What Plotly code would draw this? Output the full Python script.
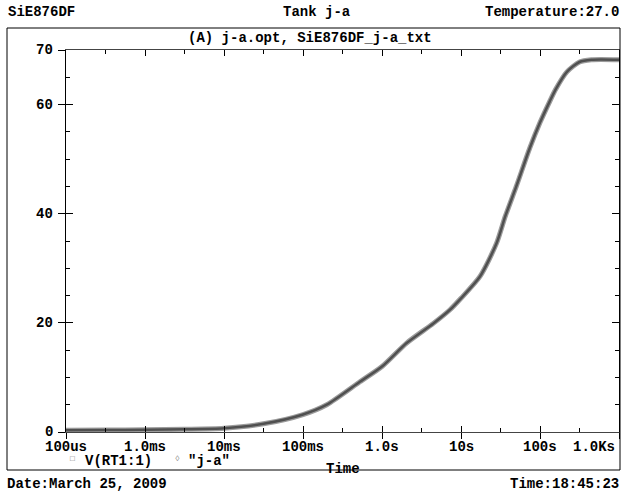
import math
import plotly.graph_objects as go

# ---- data ----
time_s = [1e-4, 3.16e-4, 1e-3, 3.16e-3, 1e-2, 3.16e-2, 0.1, 0.2, 0.525, 1.0, 2.05,
          4.47, 7.25, 10.0, 17.4, 28.2, 36.3, 50.1, 74.1, 100.0, 132.0, 158.0,
          219.0, 316.0, 447.0, 1000.0]
v_rt1 = [0.3, 0.35, 0.4, 0.5, 0.7, 1.5, 3.2, 5.0, 9.2, 12.0, 16.3,
         19.9, 22.4, 24.5, 28.5, 34.6, 39.5, 45.0, 52.0, 56.7, 60.5, 62.8,
         66.0, 67.8, 68.2, 68.2]
v_ja = [0.3, 0.35, 0.4, 0.5, 0.7, 1.5, 3.2, 5.0, 9.2, 12.0, 16.3,
        19.9, 22.4, 24.5, 28.5, 34.6, 39.5, 45.0, 52.0, 56.7, 60.5, 62.8,
        66.0, 67.8, 68.2, 68.2]

x_tick_vals = [1e-4, 1e-3, 1e-2, 1e-1, 1, 10, 100, 1000]
x_tick_text = ["100us", "1.0ms", "10ms", "100ms", "1.0s", "10s", "100s", "1.0Ks"]
x_minor_vals = [3.16e-4, 3.16e-3, 3.16e-2, 0.316, 3.16, 31.6, 316]
y_tick_vals = [0, 20, 40, 60, 70]
y_tick_text = ["0", "20", "40", "60", "70"]
y_major_inner = [0, 20, 40, 60]
y_minor_vals = [5, 10, 15, 25, 30, 35, 45, 50, 55, 65]

FONT = "Liberation Mono"
FS = 14
W, H = 621, 493
L, R, T, B = 66, 2, 50, 61
pw, ph = W - L - R, H - T - B


def px(x):
    return (x - L) / pw


def py(y):
    return (H - B - y) / ph


fig = go.Figure()
fig.add_trace(go.Scatter(x=time_s, y=v_ja, mode="lines", name='"j-a"',
                         line=dict(color="#9c9c9c", width=5, shape="spline", smoothing=0.7),
                         xaxis="x", yaxis="y"))
fig.add_trace(go.Scatter(x=time_s, y=v_rt1, mode="lines", name="V(RT1:1)",
                         line=dict(color="#505050", width=2.5, shape="spline", smoothing=0.7),
                         xaxis="x2", yaxis="y2"))

xr = [-4, 3]
yr = [0, 70]

fig.update_layout(
    width=W, height=H,
    margin=dict(l=L, r=R, t=T, b=B),
    paper_bgcolor="white", plot_bgcolor="white",
    showlegend=False,
    font=dict(family=FONT, size=FS, color="black"),
    xaxis=dict(type="log", range=xr, tickvals=x_tick_vals, showticklabels=False,
               ticks="outside", ticklen=6, tickwidth=1, tickcolor="black",
               showline=True, linecolor="black", linewidth=1,
               showgrid=False, zeroline=False),
    yaxis=dict(range=yr, tickvals=y_tick_vals, showticklabels=False,
               ticks="outside", ticklen=7, tickwidth=1, tickcolor="black",
               showline=True, linecolor="black", linewidth=1,
               showgrid=False, zeroline=False),
    xaxis2=dict(type="log", range=xr, overlaying="x", anchor="y2", side="bottom",
                tickvals=x_tick_vals, showticklabels=False,
                ticks="inside", ticklen=6, tickwidth=1, tickcolor="black",
                minor=dict(tickvals=x_minor_vals, ticks="inside", ticklen=4,
                           tickcolor="black", tickwidth=1, showgrid=False),
                mirror="ticks", showline=True, linecolor="#444444", linewidth=1,
                showgrid=False, zeroline=False),
    yaxis2=dict(range=yr, overlaying="y", anchor="x2", side="left",
                tickvals=y_major_inner, showticklabels=False,
                ticks="inside", ticklen=7, tickwidth=1, tickcolor="black",
                minor=dict(tickvals=y_minor_vals, ticks="inside", ticklen=4,
                           tickcolor="black", tickwidth=1, showgrid=False),
                mirror="ticks", showline=True, linecolor="black", linewidth=1,
                showgrid=False, zeroline=False),
)

# x tick labels (last one kept inside the frame, as in the reference)
for i, (v, t) in enumerate(zip(x_tick_vals, x_tick_text)):
    last = i == len(x_tick_vals) - 1
    fig.add_annotation(text="<b>%s</b>" % t, xref="x", yref="paper", x=math.log10(v),
                       y=py(447), xanchor="right" if last else "center", yanchor="middle",
                       xshift=-3 if last else 0, showarrow=False, borderpad=0,
                       font=dict(family=FONT, size=FS, color="black"))
# y tick labels
for v, t in zip(y_tick_vals, y_tick_text):
    fig.add_annotation(text="<b>%s</b>" % t, xref="paper", yref="y", x=px(54), y=v,
                       xanchor="right", yanchor="middle", yshift=0, showarrow=False,
                       borderpad=0, font=dict(family=FONT, size=FS, color="black"))

# outer frame
fig.add_shape(type="rect", xref="paper", yref="paper",
              x0=px(7), x1=px(620), y0=py(470), y1=py(28),
              line=dict(color="black", width=1), fillcolor="rgba(0,0,0,0)")


def ann(text, x, y, xanchor="left", size=FS, color="black"):
    fig.add_annotation(text=text, xref="paper", yref="paper", x=px(x), y=py(y),
                       xanchor=xanchor, yanchor="middle", showarrow=False,
                       font=dict(family=FONT, size=size, color=color),
                       bgcolor="rgba(0,0,0,0)", borderpad=0)


ann("<b>SiE876DF</b>", 7, 12, "left")
ann("<b>Tank j-a</b>", 317, 12, "center")
ann("<b>Temperature:27.0</b>", 620, 12, "right")
ann("<b>(A) j-a.opt, SiE876DF_j-a_txt</b>", 310, 38, "center")
ann("<b>Time</b>", 343, 469, "center")
ann("<b>Date:March 25, 2009</b>", 6, 484, "left")
ann("<b>Time:18:45:23</b>", 620, 484, "right")
ann("□", 72, 458, "center", size=8, color="#777777")
ann("<b>V(RT1:1)</b>", 84, 461, "left")
ann("◊", 177, 458, "center", size=8, color="#777777")
ann('<b>"j-a"</b>', 187, 461, "left")

fig.write_html("out.html", config={"displayModeBar": False},
               post_script="document.body.style.margin='0';document.body.style.overflow='hidden';")
